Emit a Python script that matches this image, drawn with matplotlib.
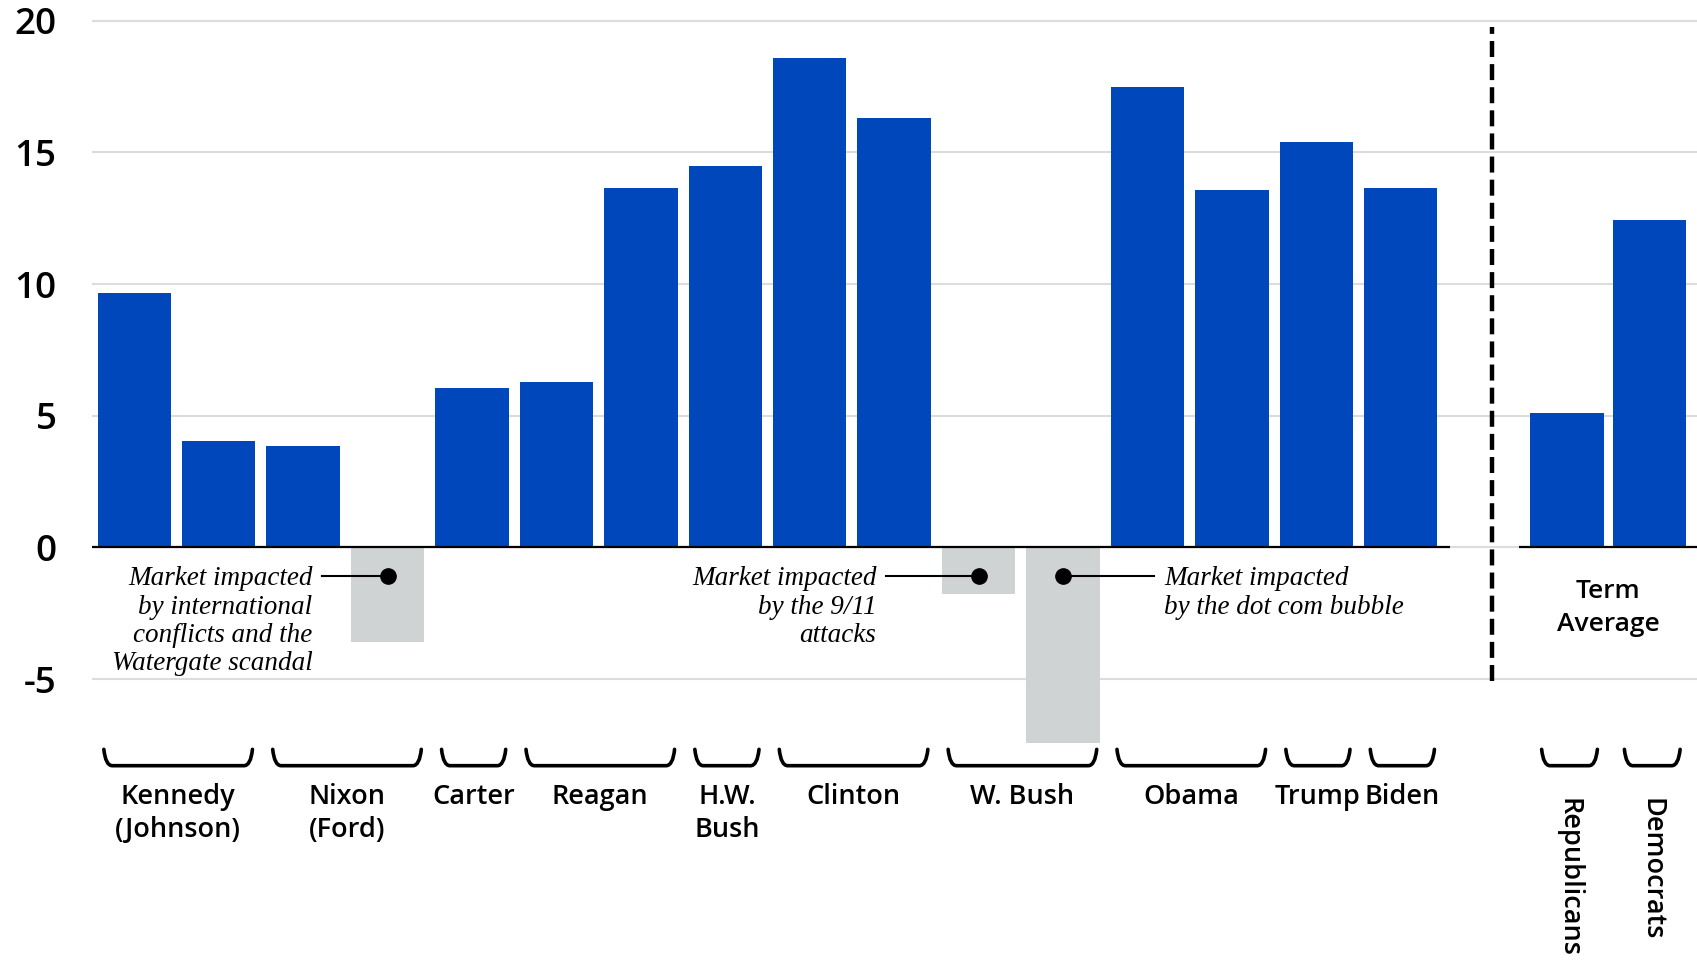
import matplotlib
matplotlib.use('Agg')
import matplotlib.pyplot as plt
from matplotlib.path import Path
from matplotlib.patches import PathPatch
import numpy as np

presidents = ["Kennedy\n(Johnson)", "Nixon\n(Ford)", "Carter", "Reagan", "H.W.\nBush",
              "Clinton", "W. Bush", "Obama", "Trump", "Biden"]
terms_per_president = [2, 2, 1, 2, 1, 2, 2, 2, 1, 1]
term_returns = [9.65, 4.04, 3.84, -3.59, 6.06, 6.27, 13.65, 14.47,
                18.6, 16.29, -1.77, -7.42, 17.48, 13.57, 15.38, 13.65]
parties = ["Republicans", "Democrats"]
party_average = [5.11, 12.45]
y_ticks = [-5, 0, 5, 10, 15, 20]

# term index, text, side, leader length
notes = [
    (3, "Market impacted\nby international\nconflicts and the\nWatergate scandal", "left", 0.78),
    (10, "Market impacted\nby the 9/11\nattacks", "left", 1.1),
    (11, "Market impacted\nby the dot com bubble", "right", 1.08),
]

BLUE = "#0047bb"
GRAY = "#d0d3d4"
SANS = ["Open Sans", "DejaVu Sans"]
SERIF = ["Liberation Serif", "DejaVu Serif"]

fig = plt.figure(figsize=(16.97, 9.6), dpi=100)
ax = fig.add_axes([0, 0, 1, 1])
ax.set_xlim(-1.59, 18.51)
ax.set_ylim(-15.67, 20.79)
ax.axis('off')

# grid + y labels
ax.hlines(y_ticks, -0.5, 18.51, color="#dcdcdc", lw=1.5, zorder=0)
for t in y_ticks:
    ax.text(-0.92, t, str(t), ha='right', va='center_baseline', fontsize=26.5,
            family=SANS, fontweight='semibold')

# term bars
x = np.arange(len(term_returns))
colors = [BLUE if v >= 0 else GRAY for v in term_returns]
ax.bar(x, term_returns, width=0.87, color=colors, zorder=2)

# party averages
xp = np.array([16.97, 17.95])
ax.bar(xp, party_average, width=0.87, color=BLUE, zorder=2)

# baselines
ax.hlines(0, -0.5, x[-1] + 0.59, color='black', lw=1.6, zorder=3)
ax.hlines(0, xp[0] - 0.57, 18.51, color='black', lw=1.6, zorder=3)

# dashed divider
ax.vlines(x[-1] + 1.08, -5.07, 19.75, color='black', lw=3.2, linestyles=(0, (3.6, 1.6)), zorder=3)

ax.text(xp.mean(), -2.3, "Term\nAverage", ha='center', va='center', fontsize=19,
        family=SANS, fontweight='semibold', linespacing=1.45)


def bracket(x0, x1, top=-7.67, bot=-8.29, rx=0.1):
    verts = [(x0, top), (x0 + 0.02, bot), (x0 + rx, bot), (x1 - rx, bot),
             (x1 - 0.02, bot), (x1, top)]
    codes = [Path.MOVETO, Path.CURVE3, Path.CURVE3, Path.LINETO, Path.CURVE3, Path.CURVE3]
    ax.add_patch(PathPatch(Path(verts, codes), fill=False, lw=2.6, color='black',
                           capstyle='round', joinstyle='round'))


start = 0
for name, n in zip(presidents, terms_per_president):
    i0, i1 = start, start + n - 1
    bracket(i0 - 0.36, i1 + 0.4)
    ax.text((i0 + i1) / 2 + 0.02, -8.95, name, ha='center', va='top', fontsize=19.5,
            family=SANS, fontweight='semibold', linespacing=1.22)
    start += n

for xi, name in zip(xp, parties):
    bracket(xi - 0.3, xi + 0.36)
    ax.text(xi + 0.02, -9.5, name, ha='center', va='top', rotation=270, fontsize=19.5,
            family=SANS, fontweight='semibold')

# annotations
for i, txt, side, lead in notes:
    ax.plot(i, -1.1, 'o', color='black', ms=11, zorder=5)
    if side == "left":
        ax.plot([i - lead, i], [-1.1, -1.1], color='black', lw=1.5, zorder=4)
        ax.text(i - lead - 0.11, -0.72, txt, ha='right', va='top', fontsize=19.5,
                family=SERIF, style='italic', linespacing=1.17)
    else:
        ax.plot([i, i + lead], [-1.1, -1.1], color='black', lw=1.5, zorder=4)
        ax.text(i + lead + 0.12, -0.72, txt, ha='left', va='top', fontsize=19.5,
                family=SERIF, style='italic', linespacing=1.17)

fig.savefig('out.png', dpi=100)
